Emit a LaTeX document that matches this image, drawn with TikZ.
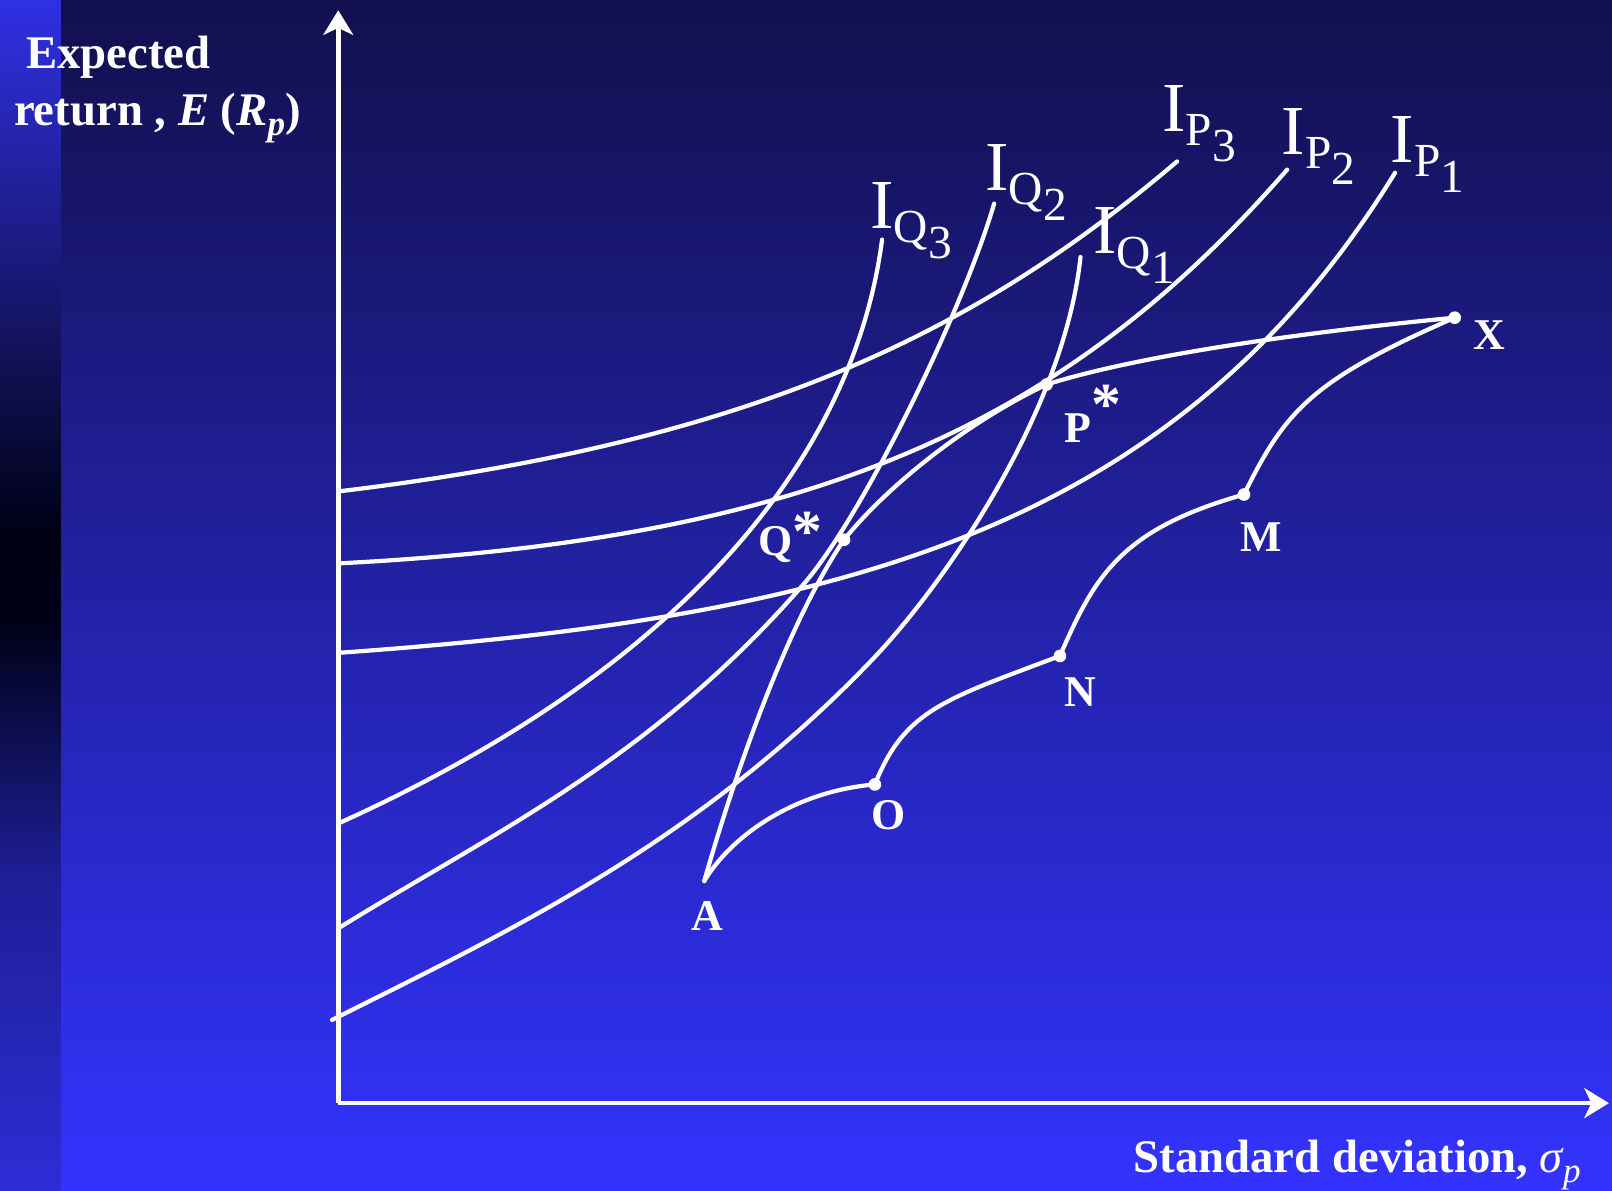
\documentclass[tikz,border=0pt]{standalone}
\usepackage{fontspec}
\setmainfont{Liberation Serif}
\usetikzlibrary{arrows.meta,positioning}
\definecolor{bgtop}{RGB}{18,16,76}
\definecolor{bgmid}{RGB}{36,35,168}
\definecolor{bgbot}{RGB}{51,51,255}
\definecolor{stripa}{RGB}{48,48,228}
\definecolor{stripb}{RGB}{22,22,105}
\definecolor{stripc}{RGB}{0,0,22}
\definecolor{stripd}{RGB}{30,30,150}
\definecolor{stripe}{RGB}{45,45,215}
\tikzset{
  curve/.style={white, line width=1.2pt, line cap=round},
  axis/.style={white, line width=1.3pt, -{Stealth[length=7pt,width=8.5pt,inset=2pt]}},
  lbl/.style={text=white, inner sep=0pt, font=\fontsize{12.5}{12.5}\selectfont\bfseries},
  axlbl/.style={text=white, inner sep=0pt, anchor=base west, font=\fontsize{13.3}{13.3}\selectfont\bfseries},
  ind/.style={text=white, inner sep=0pt, anchor=base west, font=\fontsize{20}{20}\selectfont}}
\newcommand{\indlab}[2]{I\raisebox{-4pt}{\fontsize{13.5}{13.5}\selectfont #1\raisebox{-4.5pt}{#2}}}
\newcommand{\astk}{\fontsize{17}{17}\selectfont *}

\begin{document}
\begin{tikzpicture}[x=0.01028cm, y=-0.01028cm]
  % background and left strip
  \shade[top color=bgtop, middle color=bgmid, bottom color=bgbot] (0,0) rectangle (1568,1158);
  \shade[top color=stripa, bottom color=stripb] (0,0) rectangle (59,301);
  \shade[top color=stripb, bottom color=stripc] (0,300) rectangle (59,521);
  \fill[stripc] (0,520) rectangle (59,601);
  \shade[top color=stripc, bottom color=stripd] (0,600) rectangle (59,851);
  \shade[top color=stripd, bottom color=stripe] (0,850) rectangle (59,1158);
  \useasboundingbox (0,0) rectangle (1568,1158);

  \coordinate (orig) at (329,1073);
  \coordinate (ytip) at (329,10);
  \coordinate (xtip) at (1565,1073);
  \coordinate (A) at (685,857);
  \coordinate (O) at (851,763);
  \coordinate (N) at (1031,638);
  \coordinate (M) at (1210,481);
  \coordinate (X) at (1415,309);
  \coordinate (Pst) at (1018,374);
  \coordinate (Qst) at (821,525);

  \draw[axis] (orig) -- (ytip);
  \draw[axis] (orig) -- (xtip);

  % indifference curves, P family then Q family
  \draw[curve] (329,478) .. controls (729,430) and (945,327) .. (1145,157);
  \draw[curve] (329,548) .. controls (779,525) and (1030,420) .. (1252,165);
  \draw[curve] (329,635) .. controls (809,601) and (1140,520) .. (1357,168);
  \draw[curve] (329,801) .. controls (679,643) and (832,433) .. (858,233);
  \draw[curve] (329,903) .. controls (479,810) and (631,741) .. (781,569)
    .. controls (841,500) and (938,298) .. (967,198);
  \draw[curve] (323,992) .. controls (503,902) and (680,818) .. (850,640)
    .. controls (920,566) and (1035,400) .. (1051,250);

  % frontier and the wavy line below it
  \draw[curve] (A) .. controls (720,735) and (770,600) .. (Qst)
    .. controls (861,475) and (938,412) .. (Pst)
    .. controls (1110,345) and (1270,323) .. (X);
  \draw[curve] (A) .. controls (710,815) and (770,770) .. (O)
    .. controls (880,690) and (920,680) .. (N)
    .. controls (1065,560) and (1090,515) .. (M)
    .. controls (1250,400) and (1275,370) .. (X);
  \foreach \p in {Qst,Pst,O,N,M,X} \fill[white] (\p) circle (1.8pt);

  \node[ind] (iq3) at (846,222) {\indlab{Q}{3}};
  \node[ind] (iq2) at (958,185) {\indlab{Q}{2}};
  \node[ind] (iq1) at (1063,247) {\indlab{Q}{1}};
  \node[ind] (ip3) at (1130,128) {\indlab{P}{3}};
  \node[ind] (ip2) at (1246,150) {\indlab{P}{2}};
  \node[ind] (ip1) at (1352,158) {\indlab{P}{1}};

  \node[lbl] (xl) at (1449,326) {X};
  \node[lbl, anchor=base west] (pl) at (1035,430) {P\raisebox{5pt}{\astk}};
  \node[lbl, anchor=base west] (ql) at (737,540) {Q\raisebox{1pt}{\astk}};
  \node[lbl] (ml) at (1227,522) {M};
  \node[lbl] (nl) at (1051,673) {N};
  \node[lbl] (ol) at (864,793) {O};
  \node[lbl] (al) at (688,891) {A};

  \node[axlbl] (ylab1) at (25,67) {Expected};
  \node[axlbl] (ylab2) at (13,122) {return , \textit{E} (\textit{R}\raisebox{-3pt}{\fontsize{10}{10}\selectfont\textit{p}})};
  \node[axlbl] (xlab) at (1102,1140) {Standard deviation, {\mdseries\itshape σ\raisebox{-3pt}{\fontsize{10}{10}\selectfont p}}};
\end{tikzpicture}
\end{document}
